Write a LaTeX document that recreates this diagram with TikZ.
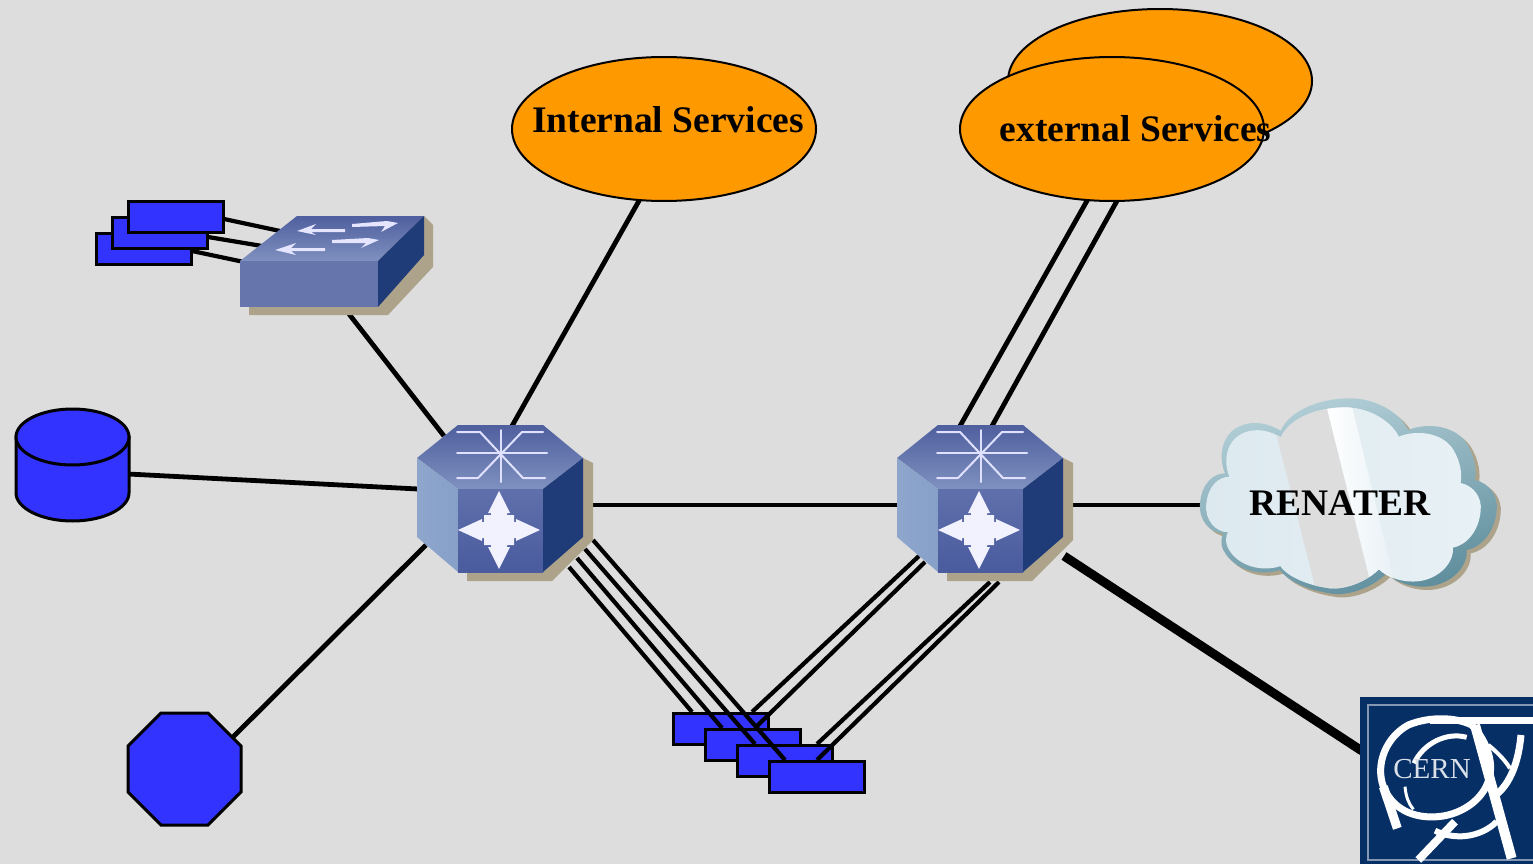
\documentclass[tikz,border=0pt]{standalone}
\usepackage{fontspec}
\setmainfont{Liberation Serif}
\setsansfont{Liberation Sans}
\usetikzlibrary{shapes.geometric}
\pgfdeclarelayer{back}
\pgfdeclarelayer{wires}
\pgfsetlayers{back,wires,main}
\definecolor{bgc}{HTML}{DDDDDD}
\definecolor{blu}{HTML}{3333FF}
\definecolor{org}{HTML}{FF9900}
\definecolor{shad}{HTML}{ACA38A}
\definecolor{dkb}{HTML}{1F3B78}
\definecolor{cernb}{HTML}{062F66}
\definecolor{HexTopA}{HTML}{4F5F9F}
\definecolor{HexTopB}{HTML}{7F91BF}
\definecolor{HexLeftA}{HTML}{8FA6CC}
\definecolor{HexLeftB}{HTML}{86A0C8}
\definecolor{HexFrontA}{HTML}{6070AC}
\definecolor{HexFrontB}{HTML}{4A5B9E}
\definecolor{SwFront}{HTML}{6676AC}
\definecolor{CloudIn}{HTML}{DCE9EF}
\definecolor{CloudInB}{HTML}{E8F1F5}
\definecolor{RimA}{HTML}{B4D0D8}
\definecolor{RimB}{HTML}{5E8D9C}
\tikzset{
  wire/.style={draw=black,line width=4.8pt},
  dwire/.style={draw=black,line width=4.2pt},
  heavy/.style={draw=black,line width=9pt},
  bluebox/.style={draw=black,fill=blu,line width=3pt,minimum width=95pt,minimum height=31pt,inner sep=0pt,outer sep=0pt},
  svc/.style={ellipse,draw=black,fill=org,line width=2pt,minimum width=304pt,minimum height=144pt,inner sep=0pt},
  lbl/.style={font=\bfseries\fontsize{37.5}{40}\selectfont,inner sep=0pt,text=black},
  ghost/.style={inner sep=0pt},
  icon/.style={draw=white!88!blue,line width=2pt,line cap=round,line join=round},
  ring/.style={draw=white,line width=6pt,line cap=butt},
}
\newcommand{\cloudpath}{(30,340) .. controls (35,280) and (70,250) .. (105,250)
  .. controls (80,190) and (100,110) .. (180,100)
  .. controls (220,95) and (250,110) .. (272,122)
  .. controls (300,60) and (390,25) .. (480,25)
  .. controls (560,25) and (630,70) .. (655,120)
  .. controls (700,100) and (790,100) .. (830,160)
  .. controls (855,200) and (860,240) .. (855,270)
  .. controls (900,280) and (925,320) .. (920,360)
  .. controls (915,420) and (880,470) .. (830,480)
  .. controls (835,530) and (780,590) .. (700,590)
  .. controls (650,590) and (610,570) .. (590,550)
  .. controls (540,600) and (460,620) .. (420,610)
  .. controls (350,600) and (290,570) .. (270,540)
  .. controls (210,560) and (130,540) .. (100,480)
  .. controls (90,460) and (95,440) .. (100,430)
  .. controls (60,430) and (25,390) .. (30,340) -- cycle}
\newcommand{\routerart}[1]{%
\begin{scope}[shift={(#1,0)}]
  \fill[shad] (467,572) -- (467,581) -- (552,581) -- (593,540) -- (593,463) -- (583,458) -- cycle;
  \shade[top color=HexTopA,bottom color=HexTopB] (458,425) -- (543,425) -- (583,458) -- (543,489) -- (458,489) -- (417,458) -- cycle;
  \shade[left color=HexLeftA,right color=HexLeftB] (417,458) -- (458,489) -- (458,572) -- (417,537) -- cycle;
  \shade[top color=HexFrontA,bottom color=HexFrontB] (458,489) -- (543,489) -- (543,572) -- (458,572) -- cycle;
  \fill[dkb] (543,489) -- (583,458) -- (583,537) -- (543,572) -- cycle;
  \draw[icon] (457,453) -- (547,453);
  \draw[icon] (501,430) -- (501,482);
  \draw[icon] (457,432) -- (480,432) -- (523,478) -- (545,478);
  \draw[icon] (543,432) -- (522,432) -- (478,478) -- (457,478);
  \begin{scope}[shift={(499,530)}]
    \fill[white!95!blue] (0,-39) -- (11,-17) -- (8,-17) -- (8,-15) -- (15,-15) -- (15,-8) -- (17,-8) -- (17,-11) -- (41,0) -- (17,11) -- (17,8) -- (15,8) -- (15,15) -- (8,15) -- (8,17) -- (11,17) -- (0,39) -- (-11,17) -- (-8,17) -- (-8,15) -- (-15,15) -- (-15,8) -- (-17,8) -- (-17,11) -- (-41,0) -- (-17,-11) -- (-17,-8) -- (-15,-8) -- (-15,-15) -- (-8,-15) -- (-8,-17) -- (-11,-17) -- cycle;
  \end{scope}
\end{scope}}
\begin{document}
\begin{tikzpicture}[x=1pt,y=-1pt]
\begin{pgfonlayer}{back}
  \fill[bgc] (0,0) rectangle (1533,864);
\end{pgfonlayer}
\useasboundingbox (0,0) rectangle (1533,864);
% anchor nodes of the drawn devices
\node[ghost,minimum width=166pt,minimum height=147pt] (routerA) at (500,498) {};
\node[ghost,minimum width=166pt,minimum height=147pt] (routerB) at (980,498) {};
\node[ghost,minimum width=184pt,minimum height=91pt] (switch) at (332,261) {};
\node[ghost,minimum width=113pt,minimum height=113pt] (disk) at (72.5,465) {};
\node[ghost,minimum width=113pt,minimum height=113pt] (octa) at (184.5,769) {};
\node[ghost,minimum width=300pt,minimum height=200pt] (cloud) at (1350,498) {};
\node[ghost,minimum width=173pt,minimum height=167pt] (cern) at (1446.5,780.5) {};
% services
\node[svc] (extback) at (1160,81) {};
\node[svc] (extfront) at (1112,129) {};
\node[svc] (intsvc) at (664,129) {};
% connection points
\coordinate (e1) at (640,199); \coordinate (e2) at (512,426);
\coordinate (f1) at (1088,199); \coordinate (f2) at (960,426);
\coordinate (g1) at (1118,199); \coordinate (g2) at (992,426);
\coordinate (s1) at (349,314); \coordinate (s2) at (444,436);
\coordinate (d1) at (128,474); \coordinate (d2) at (418,489);
\coordinate (o1) at (233,737); \coordinate (o2) at (426,545);
\coordinate (ab1) at (592,505); \coordinate (ab2) at (898,505);
\coordinate (br1) at (1072,505); \coordinate (br2) at (1202,505);
\coordinate (bc1) at (1064,556); \coordinate (bc2) at (1362,751);
\begin{pgfonlayer}{wires}
  \draw[wire] (e1) -- (e2);
  \draw[wire] (f1) -- (f2);
  \draw[wire] (g1) -- (g2);
  \draw[wire] (s1) -- (s2);
  \draw[wire] (d1) -- (d2);
  \draw[wire] (o1) -- (o2);
  \draw[wire] (ab1) -- (ab2);
  \draw[wire] (br1) -- (br2);
  \draw[heavy] (bc1) -- (bc2);
\end{pgfonlayer}
% small stacks by the switch
\coordinate (t1) at (224,219); \coordinate (t2) at (280,231);
\coordinate (t3) at (208,237); \coordinate (t4) at (262,246);
\coordinate (t5) at (192,251); \coordinate (t6) at (244,262);
\draw[dwire] (t5) -- (t6);
\node[bluebox] (sa) at (144,249) {};
\draw[dwire] (t3) -- (t4);
\node[bluebox] (sb) at (160,233) {};
\draw[dwire] (t1) -- (t2);
\node[bluebox] (sc) at (176,217) {};
% switch
\fill[shad] (249,307) -- (249,315) -- (388,315) -- (433,267) -- (433,225) -- (424,216) -- cycle;
\shade[top color=HexTopA,bottom color=HexTopB] (297,216) -- (424,216) -- (378,261) -- (240,261) -- cycle;
\fill[SwFront] (240,261) rectangle (378,307);
\fill[dkb] (378,261) -- (424,216) -- (424,255) -- (378,307) -- cycle;
\fill[white!90!blue] (297,231) -- (316,224) -- (311,229) -- (345,229) -- (345,232) -- (311,232) -- (316,235) -- cycle;
\fill[white!90!blue] (275,250) -- (296,243) -- (291,248) -- (325,248) -- (325,251) -- (291,251) -- (296,255) -- cycle;
\fill[white!90!blue] (398,223) -- (387,221) -- (352,224) -- (352,227) -- (385,226) -- (381,232) -- cycle;
\fill[white!90!blue] (379,240) -- (368,238) -- (332,240) -- (332,243) -- (366,243) -- (361,248) -- cycle;
% disk
\draw[draw=black,fill=blu,line width=3pt] (16,437) -- (16,493) .. controls (16,508) and (41,521) .. (72.5,521) .. controls (104,521) and (129,508) .. (129,493) -- (129,437) -- cycle;
\draw[draw=black,fill=blu,line width=3pt] (72.5,437) ellipse [x radius=56.5pt,y radius=28pt];
% octagon
\draw[draw=black,fill=blu,line width=3pt] (161,713) -- (208,713) -- (241,746) -- (241,792) -- (208,825) -- (161,825) -- (128,792) -- (128,746) -- cycle;
% bottom stack
\coordinate (a1) at (569,567); \coordinate (a2) at (692,712);
\coordinate (a3) at (577,558); \coordinate (a4) at (722,728);
\coordinate (a5) at (585,549); \coordinate (a6) at (755,744);
\coordinate (a7) at (593,540); \coordinate (a8) at (785,760);
\coordinate (b1) at (919,556); \coordinate (b2) at (752,712);
\coordinate (b3) at (925,562); \coordinate (b4) at (755,728);
\coordinate (b5) at (990,582); \coordinate (b6) at (817,744);
\coordinate (b7) at (999,582); \coordinate (b8) at (817,760);
\draw[dwire] (a1) -- (a2);
\draw[dwire] (b1) -- (b2);
\node[bluebox] (ra) at (720.5,729) {};
\draw[dwire] (a3) -- (a4);
\draw[dwire] (b3) -- (b4);
\node[bluebox] (rb) at (752.5,745) {};
\draw[dwire] (a5) -- (a6);
\draw[dwire] (b5) -- (b6);
\node[bluebox] (rc) at (784.5,761) {};
\draw[dwire] (a7) -- (a8);
\draw[dwire] (b7) -- (b8);
\node[bluebox] (rd) at (816.5,777) {};
% routers
\routerart{0}
\routerart{480}
% cloud
\begin{scope}[shift={(1190,390)},x=.3333pt,y=-.3333pt]
  \begin{scope}[shift={(12,10)}]
    \fill[shad] \cloudpath;
  \end{scope}
  \shade[left color=RimA,right color=RimB,shading angle=15] \cloudpath;
  \begin{scope}[shift={(465,325)},scale=.925,shift={(-480,-320)}]
    \shade[left color=CloudIn,right color=CloudInB] \cloudpath;
    \clip \cloudpath;
    \fill[bgc] (231,10) -- (417,10) -- (572,630) -- (389,630) -- cycle;
    \shade[left color=white,right color=CloudInB] (417,10) -- (500,10) -- (650,630) -- (572,630) -- cycle;
  \end{scope}
\end{scope}
\node[lbl] (renater) at (1340,503) {RENATER};
% CERN logo
\fill[cernb] (1360,697) rectangle (1533,864);
\begin{scope}
  \clip (1360,697) rectangle (1533,864);
  \draw[white!50!cernb,line width=1.6pt] (1533,705) -- (1368,705) -- (1368,860) -- (1533,860);
  \begin{scope}[shift={(1340,680)},x=.3333pt,y=-.3333pt]
    \draw[ring,line width=7pt] (395,135) .. controls (350,112) and (270,108) .. (205,135) .. controls (140,170) and (105,250) .. (130,320) .. controls (160,395) and (235,420) .. (310,408) .. controls (385,395) and (450,340) .. (452,265) .. controls (452,215) and (425,165) .. (395,135);
    \draw[ring,line width=7pt] (270,122) -- (579,122);
    \draw[ring,line width=10pt] (405,135) -- (515,535);
    \draw[ring,line width=5pt] (380,172) .. controls (320,155) and (250,190) .. (222,250);
    \draw[ring,line width=3pt] (195,320) .. controls (198,350) and (205,370) .. (220,388);
    \draw[ring,line width=9pt] (130,320) -- (172,445);
    \draw[ring,line width=8pt] (345,425) -- (235,540);
    \draw[ring,line width=6pt] (285,452) .. controls (340,480) and (420,475) .. (470,425);
    \draw[ring,line width=7pt] (543,165) .. controls (535,250) and (510,310) .. (468,345);
    \draw[ring,line width=4pt] (445,195) .. controls (470,215) and (495,240) .. (510,265);
  \end{scope}
\end{scope}
\node[inner sep=0pt,text=white!85!cernb,font=\fontsize{29}{30}\selectfont] (cerntext) at (1432,769) {CERN};
% labels
\node[lbl] (intlbl) at (668,120) {Internal Services};
\node[lbl] (extlbl) at (1135.5,129) {external Services};
\end{tikzpicture}
\end{document}
